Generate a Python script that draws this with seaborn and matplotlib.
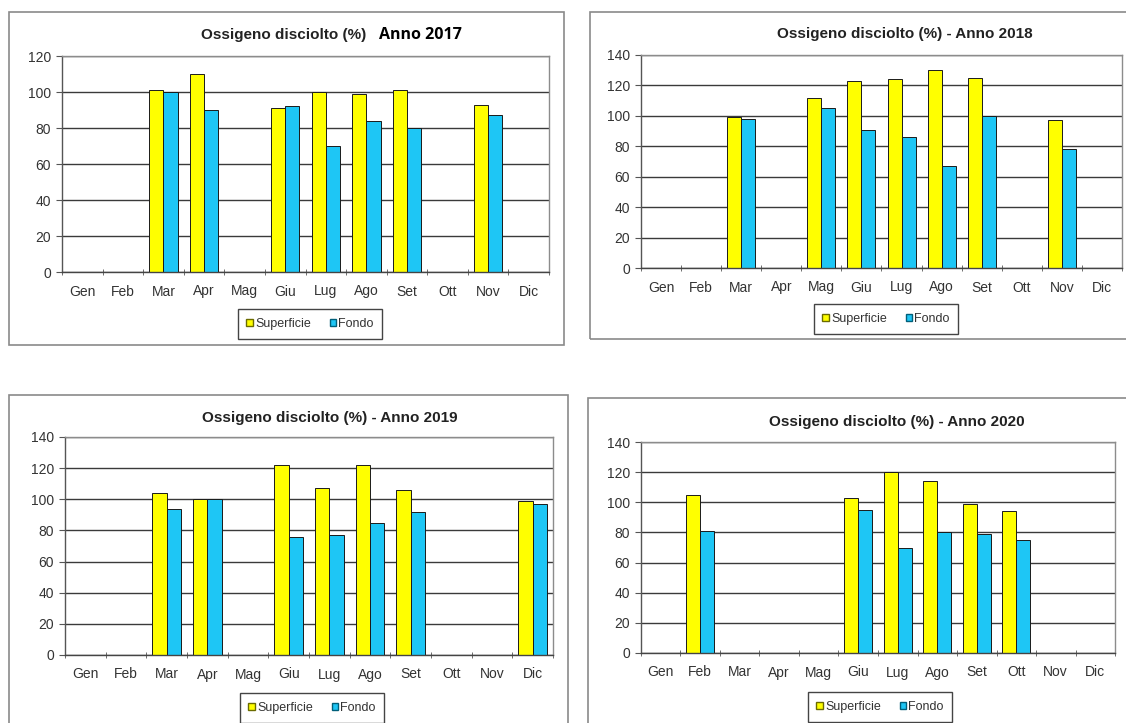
import numpy as np
import pandas as pd
import matplotlib
matplotlib.use("Agg")
import matplotlib.pyplot as plt
from matplotlib.patches import Rectangle, Patch
import seaborn as sns

sns.set_style("white")
plt.rcParams['font.family'] = ['Liberation Sans', 'DejaVu Sans']

nan = np.nan
mesi = ['Gen', 'Feb', 'Mar', 'Apr', 'Mag', 'Giu', 'Lug', 'Ago', 'Set', 'Ott', 'Nov', 'Dic']
serie = ['Superficie', 'Fondo']

# valori (Gen..Dic)
sup_2017 = [nan, nan, 101, 110, nan, 91, 100, 99, 101, nan, 93, nan]
fondo_2017 = [nan, nan, 100, 90, nan, 92, 70, 84, 80, nan, 87, nan]
sup_2018 = [nan, nan, 99, nan, 112, 123, 124, 130, 125, nan, 97, nan]
fondo_2018 = [nan, nan, 98, nan, 105, 91, 86, 67, 100, nan, 78, nan]
sup_2019 = [nan, nan, 104, 100, nan, 122, 107, 122, 106, nan, nan, 99]
fondo_2019 = [nan, nan, 94, 100, nan, 76, 77, 85, 92, nan, nan, 97]
sup_2020 = [nan, 105, nan, nan, nan, 103, 120, 114, 99, 94, nan, nan]
fondo_2020 = [nan, 81, nan, nan, nan, 95, 70, 80, 79, 75, nan, nan]

GIALLO = '#FFFF00'
AZZURRO = '#1EC6F5'

W, H = 1126, 723
fig = plt.figure(figsize=(W / 100, H / 100), dpi=100)
fig.patch.set_facecolor('white')


def box(x0, x1, y0, y1):
    # from pixel coords (top-left origin) to figure coords
    return [x0 / W, 1 - y1 / H, (x1 - x0) / W, (y1 - y0) / H]


def pannello(sup, fondo, ymax, frame, axbox, legpos):
    # chart frame
    fb = box(*frame)
    fig.add_artist(Rectangle(fb[:2], fb[2], fb[3], transform=fig.transFigure,
                             fill=False, edgecolor='#8a8a8a', lw=1.2))
    ax = fig.add_axes(box(*axbox))
    df = pd.DataFrame({'Mese': mesi * 2,
                       'Serie': [serie[0]] * 12 + [serie[1]] * 12,
                       'Valore': sup + fondo})
    sns.barplot(data=df, x='Mese', y='Valore', hue='Serie', order=mesi,
                hue_order=serie, palette=[GIALLO, AZZURRO], width=0.7,
                saturation=1, edgecolor='#1a1a1a', linewidth=0.7,
                errorbar=None, legend=False, ax=ax)
    ax.set_xlim(-0.5, 11.5)
    ax.set_ylim(0, ymax)
    ax.set_yticks(range(0, ymax + 1, 20))
    ax.yaxis.grid(True, color='#3a3a3a', lw=1)
    ax.set_axisbelow(True)
    ax.set_xlabel('')
    ax.set_ylabel('')
    for s in ax.spines.values():
        s.set_color('#8c8c8c')
        s.set_linewidth(1)
    ax.spines['left'].set_color('#555555')
    ax.spines['bottom'].set_color('#444444')
    ax.tick_params(axis='y', length=4, color='#555555', labelsize=10,
                   labelcolor='#333333', pad=4, left=True)
    ax.set_xticks(range(12))
    ax.set_xticks(np.arange(-0.5, 12, 1), minor=True)
    ax.tick_params(axis='x', which='major', length=0, labelsize=10,
                   labelcolor='#333333', pad=9)
    ax.tick_params(axis='x', which='minor', length=4, color='#555555',
                   direction='inout', bottom=True)
    handles = [Patch(facecolor=GIALLO, edgecolor='#6b6b00', lw=1),
               Patch(facecolor=AZZURRO, edgecolor='#005f7a', lw=1)]
    leg = ax.legend(handles, serie, loc='center',
                    bbox_to_anchor=(legpos[0] / W, 1 - legpos[1] / H),
                    bbox_transform=fig.transFigure, ncol=2, frameon=True,
                    fancybox=False, edgecolor='#444444', fontsize=9,
                    handlelength=0.55, handleheight=0.55, handletextpad=0.15,
                    columnspacing=1.5, borderpad=0.7, framealpha=1)
    leg.get_frame().set_linewidth(1)
    for t in leg.get_texts():
        t.set_color('#333333')
    return ax


pannello(sup_2017, fondo_2017, 120, (9, 564, 12, 345), (62, 549, 56, 272), (310, 324))
pannello(sup_2018, fondo_2018, 140, (590, 1132, 12, 339), (641, 1122, 55, 268), (886, 319))
pannello(sup_2019, fondo_2019, 140, (9, 568, 395, 730), (65, 553, 437, 655), (312, 708))
pannello(sup_2020, fondo_2020, 140, (588, 1132, 398, 730), (641, 1115, 442, 653), (880, 707))

# titoli
fig.text(366 / W, 1 - 35 / H, 'Ossigeno disciolto (%)', ha='right', va='center',
         fontsize=11, fontweight='bold', color='#222222')
fig.text(379 / W, 1 - 35 / H, 'Anno 2017', ha='left', va='center',
         fontsize=11.5, fontweight='bold', color='black',
         family=['Open Sans', 'DejaVu Sans'])
fig.text(905 / W, 1 - 34 / H, 'Ossigeno disciolto (%) - Anno 2018', ha='center',
         va='center', fontsize=11, fontweight='bold', color='#222222')
fig.text(330 / W, 1 - 418 / H, 'Ossigeno disciolto (%) - Anno 2019', ha='center',
         va='center', fontsize=11, fontweight='bold', color='#222222')
fig.text(897 / W, 1 - 422 / H, 'Ossigeno disciolto (%) - Anno 2020', ha='center',
         va='center', fontsize=11, fontweight='bold', color='#222222')

fig.savefig('out.png', dpi=100, facecolor='white')
